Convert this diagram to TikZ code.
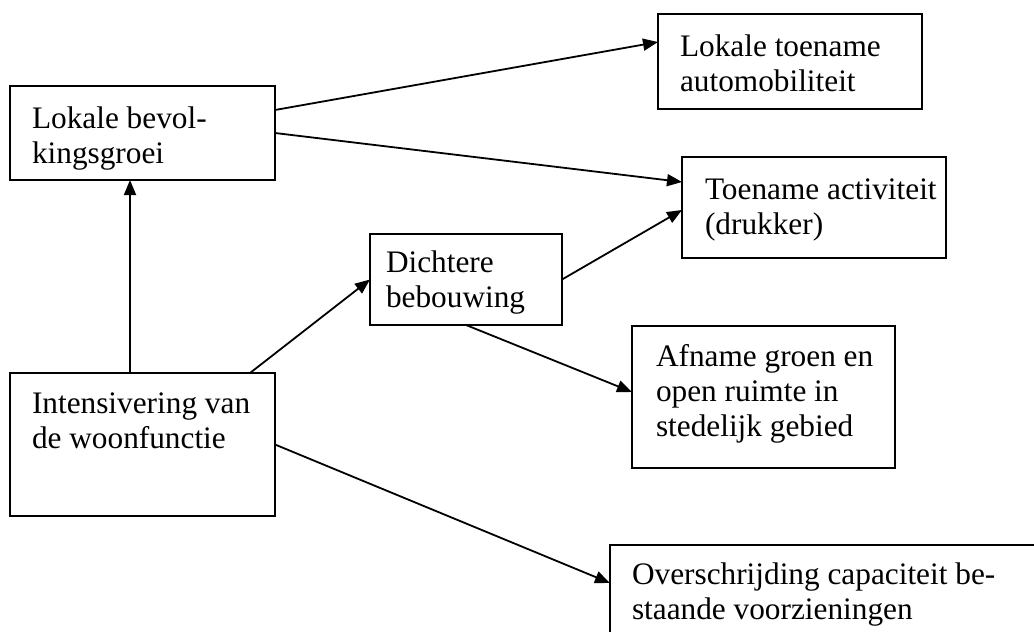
\documentclass[tikz,border=0pt]{standalone}
\usepackage{fontspec}
\setmainfont{Liberation Serif}
\usetikzlibrary{arrows.meta,calc}
\tikzset{
  box/.style={draw=black, line width=1.8pt, inner sep=0pt, outer sep=0pt, anchor=north west},
  txt/.style={inner sep=0pt, outer sep=0pt, anchor=north west, align=left,
              font=\fontsize{31.3}{35}\selectfont},
  conn/.style={line width=1.8pt, -{Triangle[length=15pt,width=12pt]}}
}
\begin{document}
\begin{tikzpicture}[x=1pt,y=-1pt]
\fill[white] (0,0) rectangle (1034,632);
\clip (0,0) rectangle (1034,632);
% boxes
\node[box, minimum width=265pt, minimum height=94pt]  (A) at (10,86)  {};
\node[box, minimum width=264pt, minimum height=95pt]  (B) at (658,14) {};
\node[box, minimum width=264pt, minimum height=101pt] (C) at (682,157) {};
\node[box, minimum width=192pt, minimum height=91pt]  (D) at (370,234) {};
\node[box, minimum width=263pt, minimum height=142pt] (E) at (632,326) {};
\node[box, minimum width=265pt, minimum height=143pt] (F) at (10,373) {};
\node[box, minimum width=440pt, minimum height=100pt] (G) at (610,545) {};
% texts
\node[txt] (tA) at (32,103.5)  {\strut Lokale bevol-\\kingsgroei};
\node[txt] (tB) at (680,31.5)  {\strut Lokale toename\\automobiliteit};
\node[txt] (tC) at (705,174.5) {\strut Toename activiteit\\(drukker)};
\node[txt] (tD) at (386,247.5) {\strut Dichtere\\bebouwing};
\node[txt] (tE) at (656,342)   {\strut Afname groen en\\open ruimte in\\stedelijk gebied};
\node[txt] (tF) at (32,388.5)  {\strut Intensivering van\\de woonfunctie};
\node[txt] (tG) at (632,559.5) {\strut Overschrijding capaciteit be-\\staande voorzieningen};
% connectors
\draw[conn] ([yshift=23pt]A.east) -- ([yshift=19.5pt]B.west);
\draw[conn] (A.east) -- ([yshift=25.5pt]C.west);
\draw[conn] ([xshift=-12.5pt]F.north) -- ([xshift=-12.5pt]A.south);
\draw[conn] ([xshift=107.5pt]F.north) -- (D.west);
\draw[conn] (D.east) -- ([yshift=-2.5pt]C.west);
\draw[conn] (D.south) -- ([yshift=5pt]E.west);
\draw[conn] (F.east) -- ([yshift=12pt]G.west);
\end{tikzpicture}
\end{document}
